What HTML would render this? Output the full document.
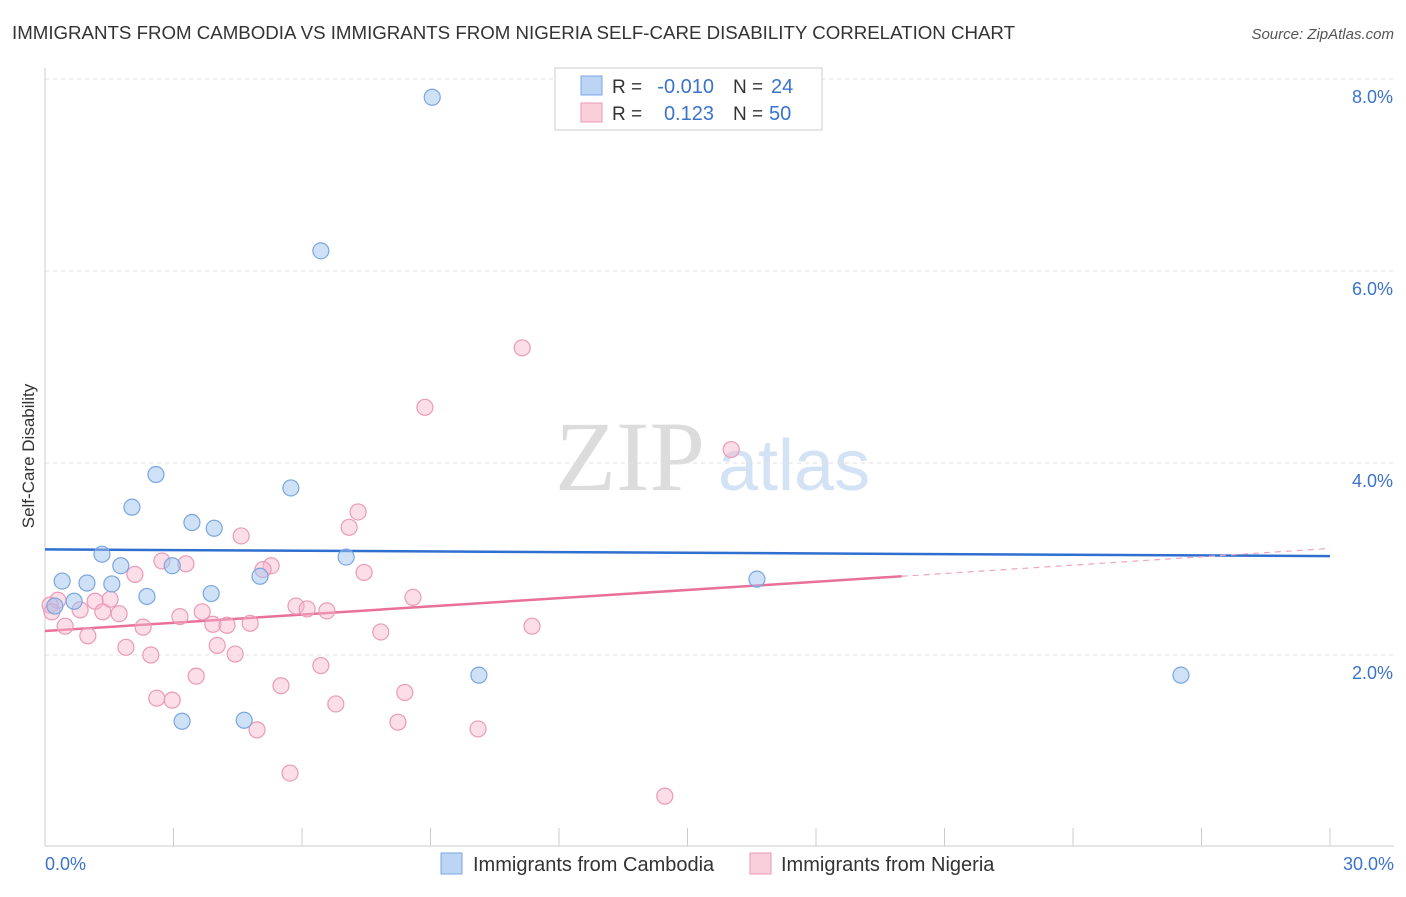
<!DOCTYPE html>
<html><head><meta charset="utf-8"><style>
body{margin:0;background:#fff;font-family:"Liberation Sans",sans-serif}
</style></head><body>
<svg id="chart" width="1406" height="892" xmlns="http://www.w3.org/2000/svg" font-family="Liberation Sans, sans-serif">
<text x="12" y="39" font-size="18.7" fill="#333">IMMIGRANTS FROM CAMBODIA VS IMMIGRANTS FROM NIGERIA SELF-CARE DISABILITY CORRELATION CHART</text>
<text x="1394" y="39" font-size="15" fill="#555" text-anchor="end" font-style="italic">Source: ZipAtlas.com</text>
<text x="555" y="490" font-size="100" fill="#dcdcdc" style="font-family:'Liberation Serif',serif">ZIP</text>
<text x="718" y="490" font-size="72" fill="#d3e2f4">atlas</text>
<text transform="translate(34,456) rotate(-90)" font-size="17" fill="#333" text-anchor="middle">Self-Care Disability</text>
<g id="grid"></g><g id="axes"></g><g id="trends"></g><g id="points"></g>
<g>
<rect x="555" y="68" width="267" height="62" fill="#fff" stroke="#ccc"/>
<rect x="581" y="76" width="21" height="19" fill="#bcd5f5" stroke="#7aa6e0"/>
<rect x="581" y="103" width="21" height="19" fill="#f9cfdc" stroke="#eb9ab8"/>
<text x="612" y="93" font-size="19" fill="#333">R =</text><text x="714" y="93" font-size="20" fill="#3b73cc" text-anchor="end">-0.010</text>
<text x="733" y="93" font-size="19" fill="#333">N =</text><text x="771" y="93" font-size="20" fill="#3b73cc">24</text>
<text x="612" y="120" font-size="19" fill="#333">R =</text><text x="714" y="120" font-size="20" fill="#3b73cc" text-anchor="end">0.123</text>
<text x="733" y="120" font-size="19" fill="#333">N =</text><text x="769" y="120" font-size="20" fill="#3b73cc">50</text>
</g>
<g>
<rect x="441" y="853" width="21" height="21" fill="#bcd5f5" stroke="#7aa6e0"/>
<text x="473" y="871" font-size="20" fill="#333">Immigrants from Cambodia</text>
<rect x="750" y="853" width="21" height="21" fill="#f9cfdc" stroke="#eb9ab8"/>
<text x="781" y="871" font-size="20" fill="#333">Immigrants from Nigeria</text>
</g>
</svg>
<script>
const yTicks=[2,4,6,8];
const yTickLabels=["2.0%","4.0%","6.0%","8.0%"];
const xTickLabels=["0.0%","30.0%"];
const cambodiaX=[9.04,6.44,2.59,2.03,5.74,3.43,3.95,1.33,1.77,2.97,7.03,0.40,0.98,1.56,2.38,3.88,5.02,0.68,0.23,10.13,3.20,4.65,16.62,26.52];
const cambodiaY=[7.81,6.21,3.88,3.54,3.74,3.38,3.32,3.05,2.93,2.93,3.02,2.77,2.75,2.74,2.61,2.64,2.82,2.56,2.51,1.79,1.31,1.32,2.79,1.79];
const nigeriaX=[11.14,8.87,16.02,7.31,7.10,4.58,2.73,3.29,5.28,5.09,2.10,7.45,1.52,1.17,8.59,0.30,5.86,6.12,6.58,0.82,1.35,1.73,3.15,3.67,2.29,3.92,4.25,4.79,0.47,11.37,7.84,1.00,1.89,4.02,2.47,4.44,6.44,3.53,5.51,8.40,2.61,2.97,6.79,8.24,10.11,4.95,5.72,14.47,0.12,0.16];
const nigeriaY=[5.20,4.58,4.14,3.49,3.33,3.24,2.98,2.95,2.93,2.89,2.84,2.86,2.58,2.56,2.60,2.57,2.51,2.48,2.46,2.47,2.45,2.43,2.40,2.45,2.29,2.32,2.31,2.33,2.30,2.30,2.24,2.20,2.08,2.10,2.00,2.01,1.89,1.78,1.68,1.61,1.55,1.53,1.49,1.30,1.23,1.22,0.77,0.53,2.52,2.45];
const cambodiaTrendX=[0,30];
const cambodiaTrendY=[3.10,3.03];
const nigeriaTrendX=[0,20.0];
const nigeriaTrendY=[2.25,2.82];
const nigeriaDashX=[20.0,30];
const nigeriaDashY=[2.82,3.11];
const NS="http://www.w3.org/2000/svg";
const xs=v=>45+v*(1285/30);
const ys=v=>847-v*96;
function mk(tag,attrs,parent){const e=document.createElementNS(NS,tag);for(const k in attrs)e.setAttribute(k,attrs[k]);document.getElementById(parent).appendChild(e);return e;}
yTicks.forEach((t,i)=>{
 const l=mk('line',{x1:45,x2:1394,y1:ys(t),y2:ys(t),stroke:'#e2e2e2','stroke-dasharray':'4,4'},'grid');
 
 
 const tx=mk('text',{x:1393,y:ys(t)+24,'font-size':18,fill:'#3b73cc','text-anchor':'end'},'grid');
 tx.textContent=yTickLabels[i];
 
 
});
const topLine=mk('line',{x1:45,x2:1394,y1:79,y2:79,stroke:'#e2e2e2','stroke-dasharray':'4,4'},'grid');


const ya=mk('line',{x1:45,x2:45,y1:68,y2:846,stroke:'#ccc'},'axes');


const xa=mk('line',{x1:45,x2:1394,y1:846,y2:846,stroke:'#ccc'},'axes');


for(let i=0;i<=10;i++){
 const t=mk('line',{x1:xs(i*3),x2:xs(i*3),y1:828,y2:846,stroke:'#ccc'},'axes');
 
 
}
[[0,'start',45],[30,'end',1394]].forEach((d,i)=>{
 const t=mk('text',{x:d[2],y:870,'font-size':18,fill:'#3b73cc','text-anchor':d[1]},'axes');
 t.textContent=xTickLabels[i];
 
 
});
const tb=mk('line',{x1:xs(cambodiaTrendX[0]),y1:ys(cambodiaTrendY[0]),x2:xs(cambodiaTrendX[1]),y2:ys(cambodiaTrendY[1]),stroke:'#2f6fcf','stroke-width':2.5},'trends');


const tp=mk('line',{x1:xs(nigeriaTrendX[0]),y1:ys(nigeriaTrendY[0]),x2:xs(nigeriaTrendX[1]),y2:ys(nigeriaTrendY[1]),stroke:'#e8709a','stroke-width':2.5},'trends');


const td=mk('line',{x1:xs(nigeriaDashX[0]),y1:ys(nigeriaDashY[0]),x2:xs(nigeriaDashX[1]),y2:ys(nigeriaDashY[1]),stroke:'#eea5bf','stroke-width':1.2,'stroke-dasharray':'6,5'},'trends');


nigeriaX.forEach((x,i)=>{
 const c=mk('circle',{cx:xs(x),cy:ys(nigeriaY[i]),r:8,fill:'rgba(246,182,204,0.45)',stroke:'#eb9ab8','stroke-width':1.2},'points');
 
 
});
cambodiaX.forEach((x,i)=>{
 const c=mk('circle',{cx:xs(x),cy:ys(cambodiaY[i]),r:8,fill:'rgba(160,196,240,0.5)',stroke:'#7aa6e0','stroke-width':1.2},'points');
 
 
});
</script>
</body></html>
